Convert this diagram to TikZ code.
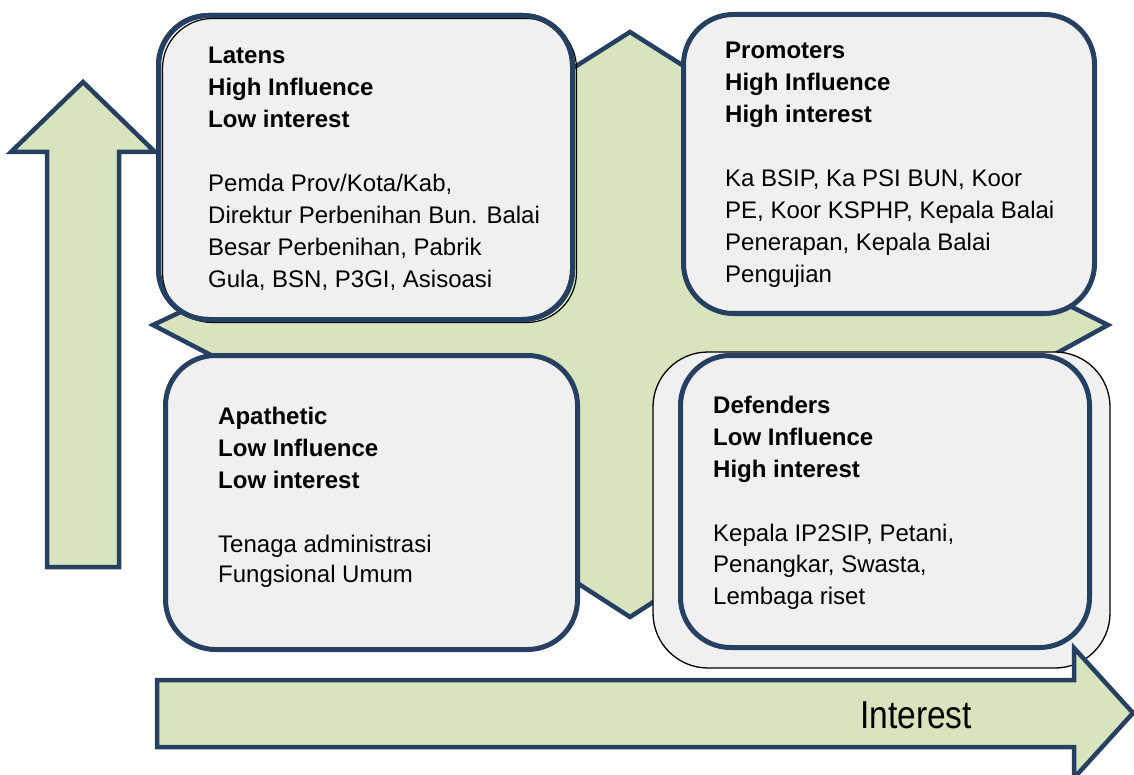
\documentclass[tikz,border=0pt]{standalone}
\usepackage{fontspec}
\setmainfont{Liberation Sans}
\newfontfamily\narrowfont[FakeStretch=0.86]{Liberation Sans}
\definecolor{gfill}{HTML}{D7E4BD}
\definecolor{bline}{HTML}{264062}
\definecolor{bfill}{HTML}{F0F0F0}
\begin{document}
\begin{tikzpicture}[x=1pt,y=-1pt,
  shapeline/.style={draw=bline, line width=4.5pt, line join=miter, fill=gfill},
  box/.style={rectangle, draw=bline, line width=5pt, fill=bfill, rounded corners=50pt, inner sep=0pt, outer sep=0pt},
  boxrim/.style={draw=bline, line width=5pt, rounded corners=50pt},
  shadowbox/.style={rectangle, draw=black, line width=1.3pt, fill=bfill, rounded corners=55pt, inner sep=0pt, outer sep=0pt},
  txt/.style={anchor=north west, inner sep=0pt, align=left, font=\fontsize{24}{32}\selectfont},
]
\useasboundingbox (0,0) rectangle (1134,775);
\clip (0,0) rectangle (1134,775);

% central green cross (concave corners hidden inside the boxes)
\draw[shapeline] (630,32) -- (720,89) -- (720,275) -- (1008,275) -- (1108,325)
  -- (1008,380) -- (720,380) -- (720,559) -- (630,617) -- (540,559) -- (540,380)
  -- (259,380) -- (153,325) -- (259,275) -- (540,275) -- (540,89) -- cycle;

% boxes
\node[box, minimum width=414pt, minimum height=304pt] (latens) at (365.5,167.5) {};
\draw[black, line width=1.2pt, rounded corners=50pt] (162.5,18.5) rectangle (576.5,322.5);
\draw[boxrim] (latens.north west) rectangle (latens.south east);
\node[box, minimum width=411pt, minimum height=299pt] (promoters) at (889,164) {};
\node[box, minimum width=412pt, minimum height=294pt] (apathetic) at (371.5,502.5) {};
\node[shadowbox, minimum width=457pt, minimum height=316pt] (defshadow) at (881.5,510) {};
\node[box, minimum width=409pt, minimum height=292pt] (defenders) at (885,501.5) {};

% axis arrows
\draw[shapeline] (83,82) -- (155,152) -- (119,152) -- (119,567) -- (47,567) -- (47,152) -- (11,152) -- cycle;
\draw[shapeline] (157,680) -- (1074,680) -- (1074,648) -- (1133,713) -- (1074,778) -- (1074,747) -- (157,747) -- cycle;

% texts
\node[txt] (latT) at (208,47) {\textbf{Latens}\\\textbf{High Influence}\\\textbf{Low interest}\\[32pt]Pemda Prov/Kota/Kab,\\Direktur Perbenihan Bun. Balai\\Besar Perbenihan, Pabrik\\Gula, BSN, P3GI, Asisoasi};
\node[txt] (proT) at (725,42) {\textbf{Promoters}\\\textbf{High Influence}\\\textbf{High interest}\\[32pt]Ka BSIP, Ka PSI BUN, Koor\\PE, Koor KSPHP, Kepala Balai\\Penerapan, Kepala Balai\\Pengujian};
\node[txt] (apaT) at (218,407) {\textbf{Apathetic}\\\textbf{Low Influence}\\\textbf{Low interest}\\[32pt]Tenaga administrasi\\[-2pt]Fungsional Umum};
\node[txt] (defT) at (713,396) {\textbf{Defenders}\\\textbf{Low Influence}\\\textbf{High interest}\\[32pt]Kepala IP2SIP, Petani,\\[-1pt]Penangkar, Swasta,\\Lembaga riset};
\node[inner sep=0pt] (interest) at (916,715) {\narrowfont\fontsize{39}{40}\selectfont Interest};
\end{tikzpicture}
\end{document}
